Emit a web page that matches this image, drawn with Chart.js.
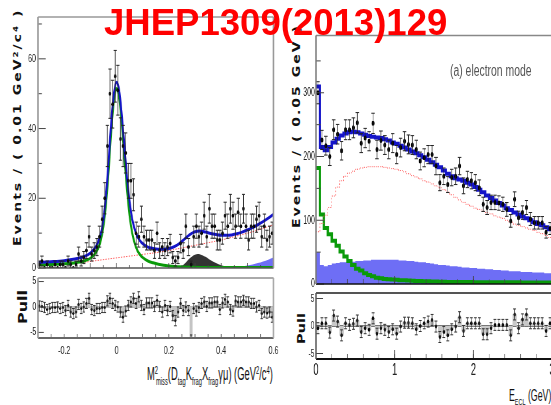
<!DOCTYPE html>
<html><head><meta charset="utf-8"><title>JHEP1309(2013)129</title>
<script src="https://cdn.jsdelivr.net/npm/chart.js@4.4.1/dist/chart.umd.min.js"></script>
<style>
html,body{margin:0;padding:0;background:#fff;}
body{width:551px;height:405px;overflow:hidden;}
#stage{position:relative;width:551px;height:405px;overflow:hidden;}
.panel{position:absolute;transform-origin:0 0;}
.panel canvas{display:block;}
.lbl{position:absolute;white-space:nowrap;transform-origin:0 0;color:#111;}
.lbl sup{font-size:0.62em;vertical-align:0.5em;line-height:0;}
.lbl sub{font-size:0.62em;vertical-align:-0.45em;line-height:0;}
.vt{font-family:'DejaVu Sans',sans-serif;font-weight:bold;}
</style></head><body>
<div id="stage">
<div class="lbl vt" style="left:12px;top:246px;font-size:14px;line-height:14px;letter-spacing:2px;transform:rotate(-90deg) scaleY(0.75)">Events / ( 0.01 GeV<sup>2</sup>/c<sup>4</sup> )</div>
<div class="lbl vt" style="left:291px;top:228px;font-size:14px;line-height:14px;letter-spacing:2px;transform:rotate(-90deg) scaleY(0.75)">Events / ( 0.05 GeV )</div>
<div class="lbl vt" style="left:17px;top:324px;font-size:16px;line-height:16px;transform:rotate(-90deg) scaleY(0.75)">Pull</div>
<div class="lbl vt" style="left:296px;top:344px;font-size:14.5px;line-height:14.5px;transform:rotate(-90deg) scaleY(0.75)">Pull</div>
<div class="lbl" style="left:147px;top:365px;font:18px 'Liberation Sans',Arial,sans-serif;line-height:18px;transform:scaleX(0.52)">M<sup>2</sup><sub style="margin-left:-0.36em">miss</sub>(D<sub>tag</sub>K<sub>frag</sub>X<sub>frag</sub>γμ) (GeV<sup>2</sup>/c<sup>4</sup>)</div>
<div class="lbl" style="left:509px;top:388px;font:16px 'Liberation Sans',Arial,sans-serif;line-height:16px;transform:scaleX(0.55)">E<sub>ECL</sub> (GeV)</div>
<div class="lbl" style="left:450px;top:63px;font:16px 'Liberation Sans',Arial,sans-serif;line-height:16px;color:#555;transform:scaleX(0.65);z-index:3">(a) electron mode</div>
<div class="lbl" style="left:104px;top:5px;font:bold 36px 'Liberation Sans',Arial,sans-serif;line-height:36px;color:#ff0000;z-index:5;transform:scaleX(1.015)">JHEP1309(2013)129</div>
</div>
<script>
// ---------------- Left panel: M2miss, 0.01 GeV^2/c^4 bins from -0.3 to 0.6 ----------------
const mmCounts = [1,2,0,1,0,0,1,0,1,1, 0,2,1,0,1,4,2,3,5,9, 4,5,6,9,14,20,35,50,47,55,
  51,37,35,33,25,25,21,10,9,14, 9,8,8,8,5,10,5,6,5,6, 7,3,2,3,7,5,12,6,1,9,
  12,9,10,15,9,17,12,12,8,8, 10,15,12,17,15,12,16,12,17,12, 8,12,12,14,15,9,12,8,9,10];
const mmPull = [0.2,0.1,-0.1,-0.5,-0.3,-0.1,-0.1,0,-0.3,-0.1, -0.7,0.3,-1.0,-1.3,-1.0,0.5,-0.3,0,0.7,1.7,
  -0.5,-0.7,-0.3,-0.3,-0.1,-0.1,1.2,1.7,0.7,0.3, 0,-1.0,-2.0,-0.8,0.3,1.0,1.7,0.7,2.0,0.3,
  -0.5,0.8,0.8,0.8,0.1,1.3,0.1,-1.0,0.3,-0.7, 0.1,-1.7,-2.7,-1.0,0.7,-0.7,0,-0.7,-6.5,-0.3,
  -0.8,-0.1,0.7,1.0,0.1,0.8,0.8,1.0,1.0,-0.5, 0.8,1.5,1.0,-0.5,-0.8,1.2,1.0,1.0,1.3,1.0,
  1.0,0.7,0.7,0,0.3,-1.3,-1.0,-1.2,-1.0,-2.0];
const mmCurveX = [-0.3,-0.25,-0.2,-0.15,-0.12,-0.1,-0.08,-0.07,-0.06,-0.05,-0.04,-0.03,-0.02,-0.01,0,
  0.01,0.02,0.03,0.04,0.05,0.06,0.07,0.08,0.09,0.1,0.12,0.14,0.16,0.18,0.2,
  0.22,0.24,0.26,0.28,0.3,0.32,0.34,0.36,0.38,0.4,0.42,0.44,0.46,0.48,0.5,0.52,0.54,0.56,0.58,0.6];
const mmFitTotal = [1.6,1.8,2.1,2.7,3.4,4.3,6,7.5,9.8,14,21,31,42,50,53.3,
  51,44,35,26,19,14,11,9,7.8,7,6,5.6,5.4,5.4,5.6,
  6.1,7,8.3,9.6,10.4,10.6,10.3,9.9,9.6,9.4,9.4,9.5,9.8,10.3,10.9,11.6,12.4,13.3,14.3,15.4];
const mmFitSignal = [0.9,1.0,1.2,1.6,2.1,2.8,4.3,5.7,8,12,18.5,28,39.5,48,51.5,
  49,41.5,32,22.5,15,10,7,5,3.8,3,2,1.5,1.1,0.8,0.6,
  0.45,0.35,0.28,0.22,0.18,0.16,0.15,0.15,0.15,0.15,0.15,0.15,0.15,0.15,0.15,0.15,0.15,0.15,0.15,0.15];
const mmFitBkg = [0.6,0.8,1.1,1.5,1.7,1.9,2.1,2.2,2.3,2.4,2.5,2.6,2.7,2.8,2.9,
  3.0,3.1,3.2,3.3,3.4,3.5,3.6,3.7,3.8,3.9,4.1,4.3,4.5,4.8,5.0,
  5.3,5.6,5.9,6.2,6.5,6.8,7.1,7.4,7.7,8.0,8.4,8.8,9.2,9.6,10,10.4,10.9,11.4,11.9,12.4];
const mmPeakX = [0.22,0.24,0.25,0.26,0.27,0.28,0.29,0.3,0.31,0.32,0.33,0.34,0.35,0.36,0.38,0.4,0.42,0.44,0.46];
const mmPeakY = [0,0.2,0.6,1.2,2.0,2.8,3.4,3.8,4.0,3.9,3.6,3.2,2.7,2.2,1.4,0.8,0.4,0.15,0];
const mmOtherX = [0.42,0.44,0.46,0.48,0.5,0.52,0.54,0.56,0.58,0.6];
const mmOtherY = [0,0.1,0.25,0.45,0.7,1.0,1.4,1.9,2.4,3.0];
const mmXTicks = [-0.2,0,0.2,0.4,0.6];
const mmXTickLabels = ['-0.2','0','0.2','0.4','0.6'];
const mmYTicks = [0,20,40,60];
const mmYTickLabels = ['0','20','40','60'];
const pullTicks = [-5,0,5];
const pullTickLabels = ['-5','0','5'];

// ---------------- Right panel: E_ECL, 0.05 GeV bins from 0 to 3 ----------------
const eclCounts = [300,226,217,200,242,235,209,242,242,245, 253,221,229,224,252,211,225,218,211,221,
  203,214,224,219,218,211,193,198,203,203, 185,159,169,156,167,169,185,154,164,162,
  159,151,125,120,128,128,127,125,117,99, 133,104,112,120,102,96,96,96,81,87];
const eclPull = [-0.4,0.5,0.5,-1.2,1.9,0.8,-1.7,0.5,0.2,0.4, 1.0,-1.1,-0.4,-0.7,1.4,-1.4,-0.4,-0.7,-1.1,-0.6,
  -1.4,-0.1,0.6,0.6,0.5,-0.6,0,0.5,0.8,1.1, -0.1,-2.0,-1.1,-1.7,-0.6,-0.1,1.6,-0.9,0.5,0.5,
  0.5,0.5,-1.5,-1.5,-0.4,0.2,0.2,0.2,0.2,-1.7, 2.1,-0.4,1.2,2.1,0.5,0.5,0.5,0.5,-0.9,0.5];
const eclFitTotal = [310,215,210,215,222,228,233,236,238,239, 238,236,234,232,231,230,229,227,225,222,
  220,217,214,211,208,205,202,199,195,191, 187,183,178,173,169,166,164,162,159,156,
  152,148,144,139,135,131,127,123,119,116, 112,109,106,103,100,97,94,92,89,86];
const eclFitBkg = [82,95,108,120,138,152,162,169,174,177, 180,182,183,184,184,184,184,183,182,181,
  180,178,176,173,170,168,165,162,160,157, 154,151,148,144,140,136,132,128,125,122,
  119,117,114,112,110,107,105,103,100,97, 94,92,90,88,86,84,81,79,76,73];
const eclFitSignal = [182,109,88,78,68,60,51,43,36,30, 24,21,17,14,12,10,9,8,7.5,7,
  6.5,6,5.7,5.4,5.1,4.8,4.6,4.4,4.2,4, 3.8,3.6,3.4,3.3,3.2,3.1,3,3,3,3,
  2.9,2.9,2.8,2.8,2.8,2.7,2.7,2.7,2.6,2.6, 2.6,2.6,2.5,2.5,2.5,2.5,2.5,2.5,2.5,2.5];
const eclFitOther = [50,30,28,30,32,33,34,34,35,35, 36,36,37,37,38,38,38,38,38,38,
  38,37,37,36,36,35,34,34,33,32, 31,30,30,29,28,28,27,26,26,25,
  25,24,24,23,23,22,22,21,21,20, 20,20,19,19,19,18,18,18,17,17];
const eclXTicks = [0,1,2,3];
const eclXTickLabels = ['0','1','2','3'];
const eclYTicks = [0,100,200,300];
const eclYTickLabels = ['0','100','200','300'];

// ---------------- helpers ----------------
const mmCenters = mmCounts.map((_, i) => +(-0.295 + 0.01 * i).toFixed(3));
const eclCenters = eclCounts.map((_, i) => +(0.025 + 0.05 * i).toFixed(3));
const eclEdges = eclFitTotal.map((_, i) => +(0.05 * i).toFixed(3)).concat([3.0]);
const pts = (xs, ys) => xs.map((x, i) => ({x, y: ys[i]}));
const steps = ys => eclEdges.map((x, i) => ({x, y: ys[Math.min(i, ys.length - 1)]}));
const rng = (a, b, st) => { const r = []; for (let k = 0; a + k * st <= b + 1e-9; k++) r.push(+(a + k * st).toFixed(4)); return r; };

const rootDeco = {
  id: 'rootDeco',
  beforeDatasetsDraw(chart, a, o) {
    if (!o.zero) return;
    const ctx = chart.ctx, ca = chart.chartArea, y = chart.scales.y.getPixelForValue(0);
    ctx.save(); ctx.strokeStyle = o.zero.color; ctx.lineWidth = o.zero.width;
    ctx.beginPath(); ctx.moveTo(ca.left, y); ctx.lineTo(ca.right, y); ctx.stroke(); ctx.restore();
  },
  afterDatasetsDraw(chart, a, o) {
    if (!o.errors) return;
    const ctx = chart.ctx, ca = chart.chartArea, ys = chart.scales.y;
    ctx.save(); ctx.beginPath(); ctx.rect(ca.left, ca.top, ca.right - ca.left, ca.bottom - ca.top); ctx.clip();
    o.errors.forEach(eb => {
      const meta = chart.getDatasetMeta(eb.dataset);
      const d = chart.data.datasets[eb.dataset].data;
      ctx.strokeStyle = eb.color; ctx.lineWidth = eb.width; ctx.beginPath();
      d.forEach((p, i) => {
        const e = eb.err[i]; if (!e) return;
        const x = meta.data[i].x, t = ys.getPixelForValue(p.y + e), b = ys.getPixelForValue(p.y - e);
        ctx.moveTo(x, t); ctx.lineTo(x, b);
        ctx.moveTo(x - eb.cap, t); ctx.lineTo(x + eb.cap, t);
        ctx.moveTo(x - eb.cap, b); ctx.lineTo(x + eb.cap, b);
      });
      ctx.stroke();
    });
    ctx.restore();
  },
  afterDraw(chart, a, o) {
    const ctx = chart.ctx, ca = chart.chartArea;
    ctx.save();
    (o.ticks || []).forEach(t => {
      const sc = chart.scales[t.axis];
      ctx.strokeStyle = t.color || '#333'; ctx.lineWidth = t.width || 1; ctx.beginPath();
      t.values.forEach(v => {
        const p = sc.getPixelForValue(v);
        if (t.axis === 'x') { ctx.moveTo(p, ca.bottom); ctx.lineTo(p, ca.bottom - t.len); }
        else { ctx.moveTo(ca.left, p); ctx.lineTo(ca.left + t.len, p); }
      });
      ctx.stroke();
    });
    const f = o.frame || {};
    const seg = (c, w, x1, y1, x2, y2) => { if (!c) return; ctx.strokeStyle = c; ctx.lineWidth = w; ctx.beginPath(); ctx.moveTo(x1, y1); ctx.lineTo(x2, y2); ctx.stroke(); };
    seg(f.top, f.width, ca.left, ca.top, ca.right, ca.top);
    seg(f.bottom, f.width, ca.left, ca.bottom, ca.right, ca.bottom);
    seg(f.left, f.widthV, ca.left, ca.top, ca.left, ca.bottom);
    seg(f.right, f.widthV, ca.right, ca.top, ca.right, ca.bottom);
    ctx.restore();
  }
};
Chart.register(rootDeco);

const FONT = "'Liberation Sans', Arial, sans-serif";
function makePanel(o) {
  const s = o.squeeze, [bl, bt, bw, bh] = o.box, [fl, ft, fr, fb] = o.frameBox;
  const wrap = document.createElement('div');
  wrap.className = 'panel';
  wrap.style.left = bl + 'px'; wrap.style.top = bt + 'px';
  wrap.style.transform = 'scaleX(' + s + ')';
  const cv = document.createElement('canvas');
  const W = Math.round(bw / s);
  cv.width = W; cv.height = bh;
  wrap.appendChild(cv);
  document.getElementById('stage').appendChild(wrap);
  const yW = (fl - bl) / s, padR = W - (fr - bl) / s, padT = ft - bt, xH = bt + bh - fb;
  const axis = (ax, isX) => ({
    type: 'linear', min: ax.min, max: ax.max, offset: false,
    grid: {display: false, drawTicks: false}, border: {display: false},
    ticks: {display: !!ax.labels, autoSkip: false, maxRotation: 0, minRotation: 0, padding: ax.pad || 0, color: '#222',
      font: {family: FONT, size: ax.size || 11}, callback: (v, i) => ax.labels ? ax.labels[i] : ''},
    afterBuildTicks: sc => { sc.ticks = (ax.ticks || []).map(v => ({value: v})); },
    afterFit: sc => {
      if (isX) sc.height = xH; else sc.width = yW;
      sc.paddingTop = 0; sc.paddingBottom = 0; sc.paddingLeft = 0; sc.paddingRight = 0;
    }
  });
  return new Chart(cv, {
    type: 'line',
    data: {datasets: o.datasets},
    options: {
      responsive: false, animation: false, devicePixelRatio: 1, events: [],
      layout: {padding: {top: padT, right: padR, left: 0, bottom: 0}},
      plugins: {legend: {display: false}, tooltip: {enabled: false}, rootDeco: o.deco},
      scales: {x: axis(o.x, true), y: axis(o.y, false)}
    }
  });
}

const BLUE = '#1414c8', GREEN = '#0a9a0a', RED = '#ff5050', FILLBLUE = '#6e6ef5';

// ----- left main -----
makePanel({
  squeeze: 0.65, box: [0, 0, 280, 272], frameBox: [38, 17, 273.5, 269],
  x: {min: -0.3, max: 0.6, ticks: mmXTicks},
  y: {min: 0, max: 72, ticks: mmYTicks, labels: mmYTickLabels, size: 11, pad: 3},
  datasets: [
    {label: 'Data', data: pts(mmCenters, mmCounts), showLine: false, pointRadius: 2, pointBackgroundColor: '#000', pointBorderWidth: 0},
    {label: 'Fit total', data: pts(mmCurveX, mmFitTotal), borderColor: BLUE, borderWidth: 3, pointRadius: 0, cubicInterpolationMode: 'monotone'},
    {label: 'Signal', data: pts(mmCurveX, mmFitSignal), borderColor: GREEN, borderWidth: 3, pointRadius: 0, cubicInterpolationMode: 'monotone'},
    {label: 'Background', data: pts(mmCurveX, mmFitBkg), borderColor: RED, borderWidth: 1, borderDash: [2, 2], pointRadius: 0, cubicInterpolationMode: 'monotone'},
    {label: 'Peaking', data: pts(mmPeakX, mmPeakY), borderWidth: 0, pointRadius: 0, fill: 'origin', backgroundColor: '#333', cubicInterpolationMode: 'monotone'},
    {label: 'Other', data: pts(mmOtherX, mmOtherY), borderWidth: 0, pointRadius: 0, fill: 'origin', backgroundColor: FILLBLUE, cubicInterpolationMode: 'monotone'}
  ],
  deco: {
    errors: [{dataset: 0, err: mmCounts.map(v => Math.sqrt(v)), cap: 2.5, color: '#222', width: 1}],
    ticks: [
      {axis: 'y', values: mmYTicks, len: 12, color: '#444'},
      {axis: 'y', values: rng(10, 70, 20), len: 6, color: '#444'},
      {axis: 'x', values: rng(-0.3, 0.6, 0.1), len: 5, color: '#444'},
      {axis: 'x', values: rng(-0.25, 0.55, 0.1), len: 3, color: '#444'}
    ],
    frame: {top: '#999', right: '#999', left: '#999', bottom: '#555', width: 1.5, widthV: 2.5}
  }
});

// ----- left pull -----
makePanel({
  squeeze: 0.65, box: [0, 272, 280, 92], frameBox: [38, 278, 273.5, 338],
  x: {min: -0.3, max: 0.6, ticks: mmXTicks, labels: mmXTickLabels, size: 11, pad: 6},
  y: {min: -6.1, max: 5.7, ticks: pullTicks, labels: pullTickLabels, size: 10, pad: 3},
  datasets: [
    {label: 'Pull', data: pts(mmCenters, mmPull), showLine: false, pointRadius: 1.6, pointBackgroundColor: '#000', pointBorderWidth: 0},
    {type: 'bar', label: 'Pull bars', data: pts(mmCenters, mmPull), backgroundColor: '#c4c4c4', barPercentage: 1, categoryPercentage: 1, borderWidth: 0}
  ],
  deco: {
    zero: {color: '#999', width: 1.5},
    errors: [{dataset: 0, err: mmPull.map(() => 1), cap: 2, color: '#333', width: 1}],
    ticks: [
      {axis: 'y', values: pullTicks, len: 9, color: '#444'},
      {axis: 'x', values: rng(-0.3, 0.6, 0.05), len: 4, color: '#444'}
    ],
    frame: {top: '#aaa', right: '#aaa', left: '#999', bottom: '#666', width: 2, widthV: 2.5}
  }
});

// ----- right main -----
makePanel({
  squeeze: 0.58, box: [280, 0, 276, 288], frameBox: [316, 35.4, 552, 285],
  x: {min: 0, max: 3, ticks: eclXTicks},
  y: {min: 0, max: 390, ticks: eclYTicks, labels: eclYTickLabels, size: 12, pad: 2},
  datasets: [
    {label: 'Data', data: pts(eclCenters, eclCounts), showLine: false, pointRadius: 2.5, pointBackgroundColor: '#000', pointBorderWidth: 0},
    {label: 'Fit total', data: steps(eclFitTotal), stepped: 'before', borderColor: BLUE, borderWidth: 4, pointRadius: 0},
    {label: 'Background', data: steps(eclFitBkg), stepped: 'before', borderColor: RED, borderWidth: 1, borderDash: [1.5, 2], pointRadius: 0},
    {label: 'Signal', data: steps(eclFitSignal), stepped: 'before', borderColor: GREEN, borderWidth: 4, pointRadius: 0},
    {label: 'Other', data: steps(eclFitOther), stepped: 'before', borderWidth: 0, pointRadius: 0, fill: 'origin', backgroundColor: FILLBLUE}
  ],
  deco: {
    errors: [{dataset: 0, err: eclCounts.map(v => Math.sqrt(v)), cap: 3, color: '#222', width: 1}],
    ticks: [
      {axis: 'y', values: eclYTicks, len: 14, color: '#444'},
      {axis: 'y', values: rng(50, 350, 100), len: 8, color: '#444'},
      {axis: 'x', values: rng(0, 3, 1), len: 8, color: '#444'},
      {axis: 'x', values: rng(0.2, 2.8, 0.2), len: 5, color: '#444'}
    ],
    frame: {top: '#888', left: '#777', bottom: '#111', width: 1.5, widthV: 2.5}
  }
});

// ----- right pull -----
makePanel({
  squeeze: 0.58, box: [280, 287, 276, 98], frameBox: [316, 293, 552, 359],
  x: {min: 0, max: 3, ticks: eclXTicks, labels: eclXTickLabels, size: 16, pad: 2},
  y: {min: -6, max: 6, ticks: pullTicks, labels: pullTickLabels, size: 11, pad: 3},
  datasets: [
    {label: 'Pull', data: pts(eclCenters, eclPull), showLine: false, pointRadius: 2, pointBackgroundColor: '#000', pointBorderWidth: 0},
    {type: 'bar', label: 'Pull bars', data: pts(eclCenters, eclPull), backgroundColor: '#c8c8c8', barPercentage: 1, categoryPercentage: 1, borderWidth: 0}
  ],
  deco: {
    zero: {color: '#111', width: 1.5},
    errors: [{dataset: 0, err: eclPull.map(() => 1), cap: 2.5, color: '#333', width: 1}],
    ticks: [
      {axis: 'y', values: pullTicks, len: 12, color: '#444'},
      {axis: 'x', values: rng(0, 3, 1), len: 9, color: '#444'},
      {axis: 'x', values: rng(0.2, 2.8, 0.2), len: 5, color: '#444'}
    ],
    frame: {top: '#555', left: '#555', bottom: '#111', width: 2, widthV: 2.5}
  }
});
</script>
</body></html>
